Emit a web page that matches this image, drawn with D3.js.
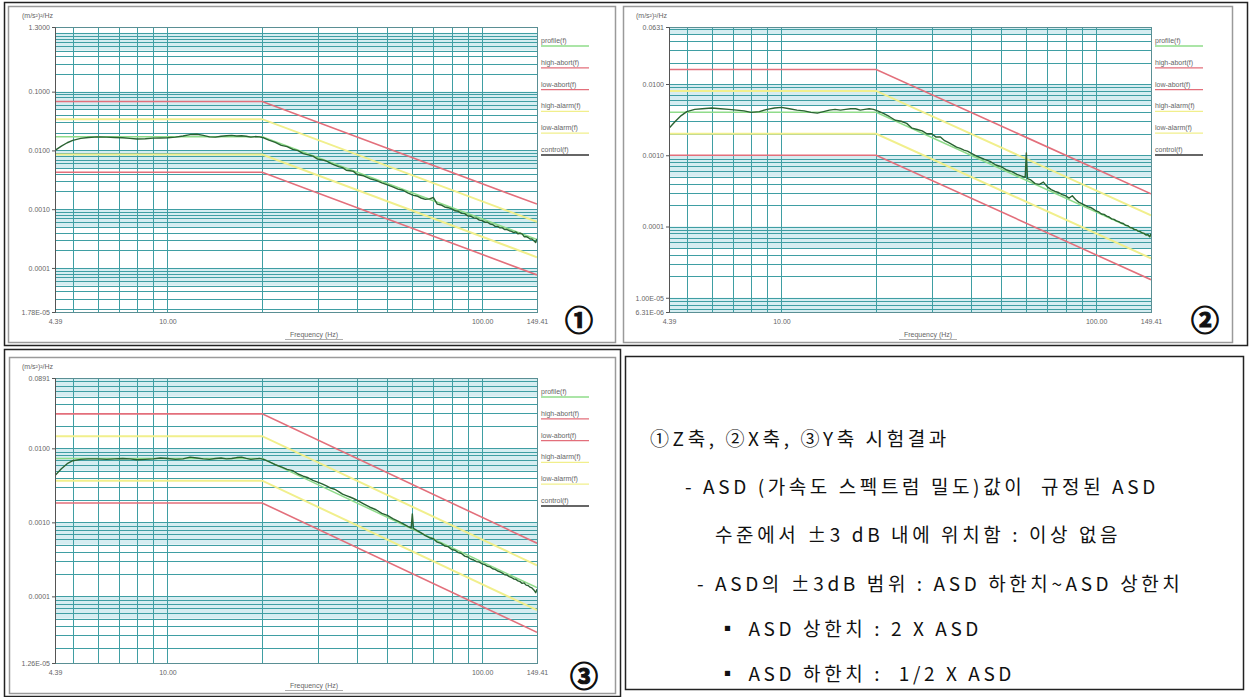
<!DOCTYPE html>
<html><head><meta charset="utf-8">
<script src="https://cdn.jsdelivr.net/npm/d3@7"></script>
<style>body{margin:0;background:#fff;} svg{display:block}</style>
</head><body>
<svg id="c" width="1254" height="697"></svg>
<script>
// ---------- data ----------
const freqs = [4.39,4.6,4.8,5.0,5.3,5.6,6.0,6.4,6.8,7.2,7.6,8.0,8.5,9.0,9.5,10,10.6,11.2,11.8,12.4,13,13.6,14.2,14.8,15.4,16,16.6,17.2,17.8,18.4,19,19.6,20.2,
  21,22,23,24,25,26,27,28,29,30,31,32,33,34,35,36,37,38,39,40,
  42,44,46,48,50,52,54,56,58,59.5,60,60.5,62,64,66,68,70,
  72,74,76,78,80,82,84,86,88,90,92,94,96,98,100,102,104,106,108,110,112,114,116,118,120,122,124,126,128,130,132,134,136,138,140,142,144,146,148,149.41];

const controlZ = [0.0100,0.0118,0.0135,0.0148,0.0160,0.0166,0.0170,0.0168,0.0166,0.0164,0.0160,0.0156,0.0158,0.0162,0.0163,0.0164,0.0168,0.0176,0.0186,0.0188,0.0180,0.0170,0.0168,0.0174,0.0178,0.0180,0.0176,0.0178,0.0174,0.0168,0.0172,0.0170,0.0164,
  0.0150,0.0137,0.0122,0.0116,0.0104,0.0099,0.0088,0.0084,0.0080,0.0071,0.0069,0.0066,0.0060,0.0056,0.0053,0.0051,0.0046,0.0045,0.0044,0.0039,
  0.0037,0.0033,0.0031,0.0028,0.0026,0.0024,0.0022,0.0021,0.0019,0.00178,0.00176,0.00172,0.00168,0.00155,0.00147,0.00150,0.00158,
  0.00122,0.00118,0.00109,0.00106,0.00101,0.00094,0.00092,0.00085,0.00084,0.00077,0.00076,0.00071,0.00070,0.00065,0.00064,0.00060,0.00060,0.00056,0.00055,0.00051,0.00051,0.00048,0.00048,0.00045,0.00045,0.00043,0.00042,0.00040,0.00041,0.00038,0.00039,0.00038,0.00034,0.00034,0.00033,0.00031,0.00031,0.00029,0.00027,0.00031];

const controlX = [0.0024,0.0030,0.0036,0.0041,0.0044,0.0045,0.0046,0.0045,0.0044,0.0043,0.0042,0.0040,0.0041,0.0044,0.0046,0.0047,0.0045,0.0043,0.0042,0.0040,0.0039,0.0041,0.0043,0.0044,0.0043,0.0044,0.0045,0.0045,0.0043,0.0044,0.0045,0.0044,0.0042,
  0.0039,0.0035,0.0031,0.0030,0.0028,0.0024,0.0023,0.0022,0.0020,0.0020,0.0018,0.0018,0.0016,0.0015,0.0014,0.0013,0.00125,0.00118,0.00114,0.00107,
  0.00096,0.00088,0.00082,0.00073,0.00069,0.00062,0.00059,0.00054,0.00051,0.00049,0.00108,0.00047,0.00045,0.00040,0.00039,0.00042,0.00036,
  0.00033,0.00031,0.00030,0.00028,0.00027,0.00025,0.00027,0.00024,0.00022,0.00021,0.00020,0.00019,0.000185,0.000175,0.000165,0.000160,0.000150,0.000148,0.000140,0.000136,0.000128,0.000126,0.000120,0.000117,0.000112,0.000110,0.000104,0.000103,0.000097,0.000096,0.000091,0.000090,0.000086,0.000085,0.000081,0.000080,0.000076,0.000077,0.000072,0.000079];

const controlY = [0.0043,0.0053,0.0062,0.0068,0.0071,0.0072,0.0072,0.0071,0.0072,0.0073,0.0072,0.0070,0.0071,0.0072,0.0074,0.0073,0.0071,0.0072,0.0076,0.0074,0.0072,0.0071,0.0073,0.0074,0.0072,0.0073,0.0075,0.0076,0.0073,0.0071,0.0072,0.0073,0.0071,
  0.0066,0.0060,0.0056,0.0052,0.0050,0.0045,0.0042,0.0040,0.0037,0.0035,0.0033,0.0031,0.0029,0.0028,0.0026,0.0024,0.0023,0.0022,0.0021,0.0020,
  0.00178,0.00160,0.00148,0.00132,0.00124,0.00112,0.00104,0.00096,0.00088,0.00084,0.00130,0.00083,0.00078,0.00072,0.00066,0.00062,0.00060,
  0.00054,0.00052,0.00048,0.00047,0.00043,0.00042,0.00039,0.00038,0.00035,0.00034,0.00032,0.00031,0.000295,0.000290,0.000275,0.000268,0.000255,0.000250,0.000236,0.000232,0.000220,0.000214,0.000206,0.000196,0.000194,0.000185,0.000180,0.000172,0.000170,0.000162,0.000158,0.000150,0.000152,0.000142,0.000140,0.000133,0.000130,0.000122,0.000112,0.000125];

const limitFreqs = [4.39, 20, 149.41];
const profileZ   = [0.017, 0.017, 0.000305];
const highAbortZ = [0.068, 0.068, 0.00122];
const lowAbortZ  = [0.00425, 0.00425, 0.0000762];
const highAlarmZ = [0.034, 0.034, 0.00061];
const lowAlarmZ  = [0.0085, 0.0085, 0.000152];

const profileX   = [0.004, 0.004, 0.0000717];
const highAbortX = [0.016, 0.016, 0.000287];
const lowAbortX  = [0.001, 0.001, 0.0000179];
const highAlarmX = [0.008, 0.008, 0.000143];
const lowAlarmX  = [0.002, 0.002, 0.0000358];

const profileY   = [0.0073, 0.0073, 0.000131];
const highAbortY = [0.0292, 0.0292, 0.000523];
const lowAbortY  = [0.001825, 0.001825, 0.0000327];
const highAlarmY = [0.0146, 0.0146, 0.000262];
const lowAlarmY  = [0.00365, 0.00365, 0.0000654];

const xDomain = [4.39, 149.41];
const xTickValues = [4.39, 10, 100, 149.41];
const xTickLabels = ["4.39", "10.00", "100.00", "149.41"];

const yDomainZ = [1.78e-5, 1.2589];
const yTickValuesZ = [1.2589, 0.1, 0.01, 0.001, 0.0001, 1.78e-5];
const yTickLabelsZ = ["1.3000", "0.1000", "0.0100", "0.0010", "0.0001", "1.78E-05"];
const yDomainX = [6.31e-6, 0.0631];
const yTickValuesX = [0.0631, 0.01, 0.001, 0.0001, 1e-5, 6.31e-6];
const yTickLabelsX = ["0.0631", "0.0100", "0.0010", "0.0001", "1.00E-05", "6.31E-06"];
const yDomainY = [1.2589e-5, 0.0891];
const yTickValuesY = [0.0891, 0.01, 0.001, 0.0001, 1.2589e-5];
const yTickLabelsY = ["0.0891", "0.0100", "0.0010", "0.0001", "1.26E-05"];

const legendLabels = ["profile(f)", "high-abort(f)", "low-abort(f)", "high-alarm(f)", "low-alarm(f)", "control(f)"];
const yUnit = "(m/s²)²/Hz";
const xTitle = "Frequency (Hz)";
const panelMarks = ["①", "②", "③"];
const noteLines = [
  "①Z축, ②X축, ③Y축 시험결과",
  "- ASD (가속도 스펙트럼 밀도)값이  규정된 ASD",
  "수준에서 ±3 dB 내에 위치함 : 이상 없음",
  "- ASD의 ±3dB 범위 : ASD 하한치~ASD 상한치",
  "▪ ASD 상한치 : 2 X ASD",
  "▪ ASD 하한치 :  1/2 X ASD"
];

// ---------- styles ----------
const C = {
  grid: "#3f9ea3", band: "#d6edf1", profile: "#8fdc8a", abort: "#e36f7b",
  alarm: "#f1ef8c", control: "#2a6332", text: "#666", frame: "#9a9a9a"
};
const legendColors = [C.profile, C.abort, C.abort, C.alarm, C.alarm, "#333"];
const FONT = "Liberation Sans, Arial, sans-serif";

const svg = d3.select("#c");
svg.append("rect").attr("width",1254).attr("height",697).attr("fill","#fff");

// outer borders
svg.append("rect").attr("x",4.5).attr("y",2.5).attr("width",1243).attr("height",343).attr("fill","none").attr("stroke","#222").attr("stroke-width",1.5);
svg.append("rect").attr("x",4.5).attr("y",349.5).attr("width",616).attr("height",347).attr("fill","none").attr("stroke","#222").attr("stroke-width",1.5);
svg.append("rect").attr("x",625.5).attr("y",356.5).attr("width",618).attr("height",333).attr("fill","none").attr("stroke","#222").attr("stroke-width",1.5);

function chart(cfg) {
  const W = 482, H = 285;
  const g = svg.append("g");
  g.append("rect").attr("x",cfg.fx+0.5).attr("y",cfg.fy+0.5).attr("width",cfg.fw).attr("height",cfg.fh)
    .attr("fill","#fff").attr("stroke",C.frame).attr("stroke-width",1.5);
  const x = d3.scaleLog().domain(xDomain).range([cfg.x0, cfg.x0 + W]);
  const y = d3.scaleLog().domain(cfg.yDomain).range([cfg.y0 + H, cfg.y0]);
  const decades = [];
  for (let e = -6; e <= 1; e++) decades.push(Math.pow(10, e));
  decades.forEach(d => {
    const top = Math.min(d, cfg.yDomain[1]), bot = Math.max(d * 0.5, cfg.yDomain[0]);
    if (top > bot) {
      g.append("rect").attr("x", cfg.x0).attr("width", W)
        .attr("y", y(top)).attr("height", y(bot) - y(top)).attr("fill", C.band);
    }
  });
  const hLines = [];
  for (let e = -6; e <= 1; e++) for (let k = 1; k <= 9; k++) {
    const v = k * Math.pow(10, e);
    if (v > cfg.yDomain[0] * 1.001 && v < cfg.yDomain[1] * 0.999) hLines.push(v);
  }
  g.selectAll(null).data(hLines).join("line")
    .attr("x1", cfg.x0).attr("x2", cfg.x0 + W)
    .attr("y1", d => Math.round(y(d)) + 0.5).attr("y2", d => Math.round(y(d)) + 0.5)
    .attr("stroke", C.grid).attr("stroke-width", 1);
  const vLines = [5,6,7,8,9,10,20,30,40,50,60,70,80,90,100];
  g.selectAll(null).data(vLines).join("line")
    .attr("y1", cfg.y0).attr("y2", cfg.y0 + H)
    .attr("x1", d => Math.round(x(d)) + 0.5).attr("x2", d => Math.round(x(d)) + 0.5)
    .attr("stroke", C.grid).attr("stroke-width", 1);
  g.append("rect").attr("x", cfg.x0 + 0.5).attr("y", cfg.y0 + 0.5).attr("width", W).attr("height", H)
    .attr("fill", "none").attr("stroke", "#5a8f94").attr("stroke-width", 1);

  const line = d3.line().x(d => x(d[0])).y(d => y(d[1]));
  const lim = arr => limitFreqs.map((f, i) => [f, arr[i]]);
  const clip = "clip" + cfg.id;
  g.append("clipPath").attr("id", clip).append("rect").attr("x", cfg.x0).attr("y", cfg.y0).attr("width", W).attr("height", H);
  const plot = g.append("g").attr("clip-path", `url(#${clip})`);
  plot.append("path").attr("d", line(lim(cfg.lowAlarm))).attr("fill","none").attr("stroke",C.alarm).attr("stroke-width",2);
  plot.append("path").attr("d", line(lim(cfg.highAlarm))).attr("fill","none").attr("stroke",C.alarm).attr("stroke-width",2);
  plot.append("path").attr("d", line(lim(cfg.profile))).attr("fill","none").attr("stroke",C.profile).attr("stroke-width",1.5);
  plot.append("path").attr("d", line(lim(cfg.lowAbort))).attr("fill","none").attr("stroke",C.abort).attr("stroke-width",1.6);
  plot.append("path").attr("d", line(lim(cfg.highAbort))).attr("fill","none").attr("stroke",C.abort).attr("stroke-width",1.6);
  plot.append("path").attr("d", line(freqs.map((f, i) => [f, cfg.control[i]]))).attr("fill","none")
    .attr("stroke", C.control).attr("stroke-width", 1.4).attr("stroke-linejoin","round");

  const yAxis = d3.axisLeft(y).tickValues(cfg.yTicks).tickFormat((d, i) => cfg.yLabels[i]).tickSize(3).tickPadding(2);
  const ya = g.append("g").attr("transform", `translate(${cfg.x0},0)`).call(yAxis);
  ya.select(".domain").attr("stroke", "#555");
  ya.selectAll(".tick line").attr("stroke", "#555");
  ya.selectAll("text").attr("fill", C.text).attr("font-size", 7).attr("font-family", FONT);
  const xAxis = d3.axisBottom(x).tickValues(xTickValues).tickFormat((d, i) => xTickLabels[i]).tickSize(0).tickPadding(7);
  const xa = g.append("g").attr("transform", `translate(0,${cfg.y0 + H})`).call(xAxis);
  xa.select(".domain").remove();
  xa.selectAll("text").attr("fill", C.text).attr("font-size", 7).attr("font-family", FONT);

  g.append("text").attr("x", cfg.x0 - 33).attr("y", cfg.y0 - 9).text(yUnit)
    .attr("fill", C.text).attr("font-size", 7).attr("font-family", FONT);
  g.append("text").attr("x", cfg.x0 + 259).attr("y", cfg.y0 + H + 25).text(xTitle).attr("text-anchor","middle")
    .attr("fill", C.text).attr("font-size", 7).attr("font-family", FONT);
  g.append("line").attr("x1", cfg.x0 + 230).attr("x2", cfg.x0 + 288).attr("y1", cfg.y0 + H + 27.5).attr("y2", cfg.y0 + H + 27.5)
    .attr("stroke", "#999").attr("stroke-width", 0.8);

  legendLabels.forEach((lab, i) => {
    const ly = cfg.y0 + 16 + i * 21.8;
    g.append("text").attr("x", cfg.x0 + W + 4).attr("y", ly).text(lab)
      .attr("fill", C.text).attr("font-size", 7).attr("font-family", FONT);
    g.append("line").attr("x1", cfg.x0 + W + 4).attr("x2", cfg.x0 + W + 52).attr("y1", ly + 3).attr("y2", ly + 3)
      .attr("stroke", legendColors[i]).attr("stroke-width", 1.3);
  });

  g.append("text").attr("x", cfg.markX).attr("y", cfg.markY).text(cfg.mark).attr("text-anchor","middle")
    .attr("dominant-baseline","central").attr("font-size", 28).attr("font-weight","bold")
    .attr("stroke", "#111").attr("stroke-width", 1.1)
    .attr("font-family", "Noto Sans CJK KR, sans-serif").attr("fill","#111");
}

chart({id:1, fx:8, fy:6, fw:607, fh:336, x0:55, y0:27, yDomain:yDomainZ, yTicks:yTickValuesZ, yLabels:yTickLabelsZ,
  control:controlZ, profile:profileZ, highAbort:highAbortZ, lowAbort:lowAbortZ, highAlarm:highAlarmZ, lowAlarm:lowAlarmZ,
  mark:panelMarks[0], markX:579, markY:319});
chart({id:2, fx:623, fy:6, fw:609, fh:336, x0:669, y0:27, yDomain:yDomainX, yTicks:yTickValuesX, yLabels:yTickLabelsX,
  control:controlX, profile:profileX, highAbort:highAbortX, lowAbort:lowAbortX, highAlarm:highAlarmX, lowAlarm:lowAlarmX,
  mark:panelMarks[1], markX:1205, markY:319});
chart({id:3, fx:9, fy:357, fw:606, fh:336, x0:55, y0:378, yDomain:yDomainY, yTicks:yTickValuesY, yLabels:yTickLabelsY,
  control:controlY, profile:profileY, highAbort:highAbortY, lowAbort:lowAbortY, highAlarm:highAlarmY, lowAlarm:lowAlarmY,
  mark:panelMarks[2], markX:584, markY:675});

// notes
const noteX = [650, 685, 715, 697, 718, 718];
const noteY = [437, 485, 533, 582, 627, 672];
noteLines.forEach((t, i) => {
  svg.append("text").attr("x", noteX[i]).attr("y", noteY[i]).text(t).attr("dominant-baseline","central")
    .style("white-space", "pre").attr("letter-spacing", 3.6)
    .attr("font-size", 19).attr("font-family", "Noto Sans CJK KR, sans-serif").attr("fill", "#111");
});
</script>
</body></html>
